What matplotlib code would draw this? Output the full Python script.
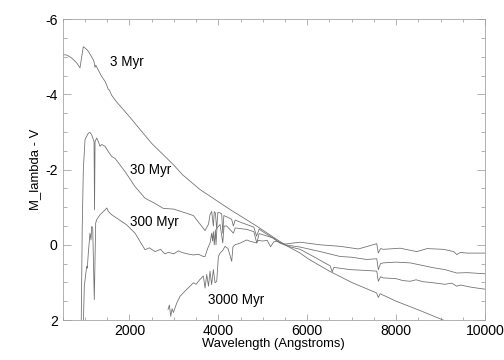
import matplotlib
matplotlib.use("Agg")
import matplotlib.pyplot as plt
from matplotlib.ticker import MultipleLocator, FuncFormatter

plt.rcParams['font.family'] = ['Liberation Sans', 'DejaVu Sans']

# ---------------- data ----------------
wl_3 = [500, 590, 702, 815, 889, 963, 1020, 1076, 1189, 1210, 1227, 1245, 1300, 1377,
        1452, 1500, 1526, 1550, 1600, 1700, 2052, 2239, 2500, 3000, 3200, 3589, 4264,
        4861, 5500, 5842, 6019, 6500, 7000, 7560, 7600, 7640, 8000, 8500, 9057, 9500, 10000]
mag_3 = [-5.06, -5.05, -4.97, -4.84, -4.71, -5.27, -5.22, -5.15, -4.92, -4.85, -4.72, -4.78,
         -4.65, -4.48, -4.35, -4.22, -4.13, -4.12, -3.98, -3.82, -3.34, -3.07, -2.7, -2.12,
         -1.86, -1.47, -0.94, -0.5, 0.0, 0.22, 0.37, 0.7, 1.0, 1.28, 1.4, 1.3, 1.5, 1.73,
         2.0, 2.2, 2.4]

wl_30 = [912, 940, 964, 1002, 1076, 1114, 1152, 1189, 1205, 1216, 1228, 1265, 1301, 1339,
         1377, 1452, 1526, 1602, 1677, 1902, 2127, 2352, 2577, 2763, 3000, 3439, 3702,
         3780, 3814, 3852, 3870, 3889, 3910, 3935, 3965, 3990, 4040, 4077, 4101, 4125,
         4200, 4300, 4340, 4380, 4500, 4640, 4800, 4861, 4920, 5000, 5164, 5389, 5600,
         5842, 6200, 6518, 6563, 6600, 6965, 7300, 7565, 7600, 7650, 7713, 8000, 8150,
         8315, 8450, 8600, 8840, 9100, 9250, 9364, 9450, 9700, 10000]
mag_30 = [2.6, -0.5, -2.0, -2.8, -2.97, -2.99, -2.93, -2.8, -2.75, -0.93, -2.75, -2.84,
          -2.75, -2.62, -2.67, -2.62, -2.48, -2.35, -2.3, -1.95, -1.55, -1.24, -1.1, -0.97,
          -0.95, -0.78, -0.38, -0.55, -0.8, -0.89, -0.7, -0.5, -0.88, -0.85, -0.41, -0.86,
          -0.85, -0.82, -0.31, -0.78, -0.74, -0.68, -0.5, -0.66, -0.6, -0.54, -0.47, -0.23,
          -0.42, -0.35, -0.23, -0.05, 0.05, 0.12, 0.35, 0.56, 0.72, 0.6, 0.66, 0.68, 0.70,
          0.97, 0.85, 0.88, 0.9, 0.95, 0.97, 0.93, 0.98, 1.01, 1.05, 1.02, 1.10, 1.07, 1.13,
          1.18]

wl_300 = [955, 986, 1040, 1053, 1076, 1114, 1137, 1152, 1175, 1211, 1242, 1265, 1339,
          1452, 1490, 1526, 1602, 1828, 1940, 2127, 2239, 2352, 2450, 2577, 2700, 2800,
          2876, 3000, 3100, 3177, 3300, 3440, 3550, 3664, 3702, 3760, 3814, 3852, 3870,
          3889, 3910, 3935, 3949, 3970, 4040, 4101, 4130, 4190, 4340, 4380, 4640, 4800,
          4865, 4920, 5239, 5389, 5500, 5842, 6296, 6740, 7000, 7340, 7565, 7600, 7650,
          7713, 8000, 8315, 8600, 8840, 9100, 9364, 9600, 10000]
mag_300 = [2.6, 1.1, 0.57, 0.62, 0.22, -0.31, -0.13, -0.49, -0.45, 1.46, -0.58, -0.67,
           -0.8, -0.93, -0.98, -0.89, -0.8, -0.62, -0.53, -0.31, -0.09, 0.13, 0.08, 0.18,
           0.12, 0.24, 0.2, 0.24, 0.16, 0.2, 0.24, 0.27, 0.25, 0.31, 0.31, 0.1, -0.05,
           -0.31, -0.1, -0.35, 0.0, -0.4, 0.0, -0.45, -0.54, -0.05, -0.5, -0.5, -0.31,
           -0.45, -0.41, -0.35, -0.05, -0.3, -0.18, -0.05, 0.0, 0.06, 0.18, 0.31, 0.33,
           0.39, 0.37, 0.66, 0.5, 0.48, 0.46, 0.48, 0.55, 0.61, 0.66, 0.75, 0.74, 0.77]

wl_3000 = [2870, 2900, 2930, 2960, 2990, 3065, 3140, 3252, 3364, 3440, 3500, 3589, 3664,
           3702, 3740, 3780, 3814, 3850, 3889, 3927, 3965, 4002, 4040, 4100, 4152, 4220,
           4302, 4330, 4377, 4500, 4640, 4700, 4861, 4900, 5000, 5100, 5175, 5250, 5315,
           5500, 5842, 6296, 6740, 7151, 7565, 7600, 7650, 7713, 8090, 8465, 8700, 9064,
           9300, 9364, 9450, 9590, 10000]
mag_3000 = [1.72, 1.6, 1.9, 1.7, 1.8, 1.55, 1.37, 1.23, 1.1, 1.01, 1.05, 0.92, 0.83, 1.15,
            0.79, 1.1, 0.7, 1.06, 0.66, 1.01, 0.97, 0.31, 0.22, 0.15, 0.04, 0.1, 0.44, 0.05,
            0.0, -0.05, -0.13, -0.1, -0.05, -0.12, -0.1, -0.12, 0.05, -0.08, -0.09, -0.02,
            -0.07, 0.0, 0.04, 0.11, -0.03, 0.22, 0.1, 0.12, 0.09, 0.18, 0.1, 0.12, 0.18,
            0.26, 0.2, 0.22, 0.22]

labels = ["3 Myr", "30 Myr", "300 Myr", "3000 Myr"]
label_wl = [1564, 2014, 2014, 3769]
label_mag = [-4.87, -2.0, -0.61, 1.46]

x_ticks = [2000, 4000, 6000, 8000, 10000]
y_ticks = [-6, -4, -2, 0, 2]

# ---------------- figure ----------------
fig = plt.figure(figsize=(7, 5), dpi=72)
ax = fig.add_axes([62.7 / 504, 40 / 360, (485 - 62.7) / 504, (320 - 19.3) / 360])

line_color = '#707070'
for w, m in [(wl_3, mag_3), (wl_30, mag_30), (wl_300, mag_300), (wl_3000, mag_3000)]:
    ax.plot(w, m, color=line_color, lw=0.8)

for t, w, m in zip(labels, label_wl, label_mag):
    ax.text(w, m, t, fontsize=13.5, ha='left', va='center', color='black')

ax.set_xlim(500, 10000)
ax.set_ylim(2, -6)
ax.set_xticks(x_ticks)
ax.set_yticks(y_ticks)
ax.xaxis.set_minor_locator(MultipleLocator(500))
ax.yaxis.set_minor_locator(MultipleLocator(0.5))
ax.yaxis.set_major_formatter(FuncFormatter(lambda v, p: f"{v:g}".replace('\u2212', '-')))
ax.xaxis.set_major_formatter(FuncFormatter(lambda v, p: f"{v:g}"))

spine_color = '#a0a0a0'
for s in ax.spines.values():
    s.set_color(spine_color)
    s.set_linewidth(0.8)

ax.tick_params(axis='both', which='both', direction='in', top=True, right=True,
               color=spine_color, width=0.8, labelsize=14, labelcolor='black')
ax.tick_params(axis='x', which='major', length=6, pad=4)
ax.tick_params(axis='x', which='minor', length=3)
ax.tick_params(axis='y', which='major', length=8, pad=5)
ax.tick_params(axis='y', which='minor', length=4)

ax.set_xlabel("Wavelength (Angstroms)", fontsize=13, labelpad=0)
ax.set_ylabel("M_lambda - V", fontsize=13, labelpad=4)

fig.savefig("out.png", dpi=72)
